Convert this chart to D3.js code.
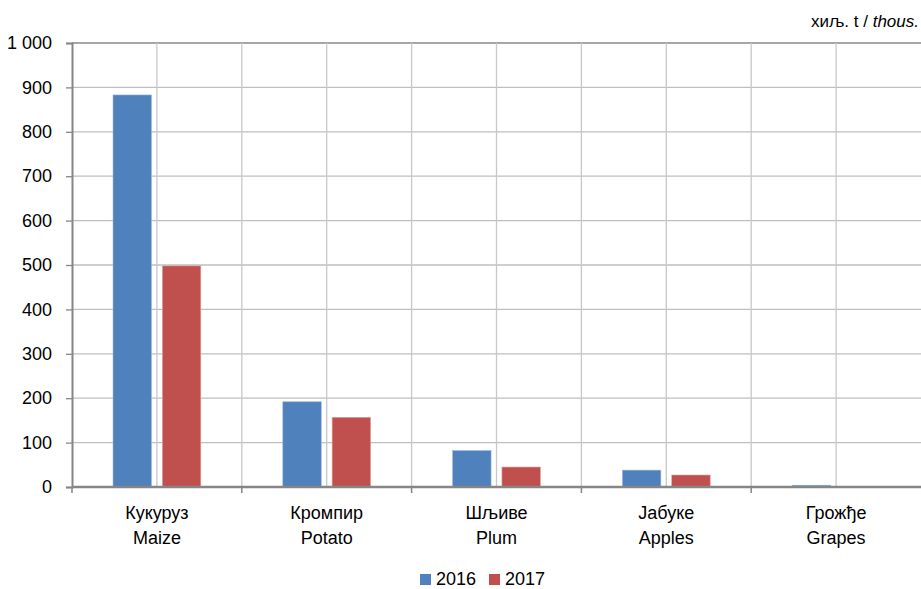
<!DOCTYPE html>
<html><head><meta charset="utf-8">
<script src="https://cdn.jsdelivr.net/npm/d3@7"></script>
<style>
body{margin:0;background:#fff;}
svg text{font-family:"Liberation Sans",Arial,sans-serif;fill:#000;}
</style></head>
<body><svg id="c" width="921" height="589"></svg>
<script>
const categoriesSr = ["Кукуруз","Кромпир","Шљиве","Јабуке","Грожђе"];
const categoriesEn = ["Maize","Potato","Plum","Apples","Grapes"];
const seriesNames = ["2016","2017"];
const values2016 = [883, 192, 82, 38, 4];
const values2017 = [498, 157, 45, 27, 1.5];
const yTicks = [0,100,200,300,400,500,600,700,800,900,1000];
const colors = ["#4F81BD","#C0504D"];

const FF = "Liberation Sans, Arial, sans-serif";
const FS = "18px";
const svg = d3.select("#c");
const L=72, R=921, T=43, B=487;
const x = d3.scaleBand().domain(d3.range(categoriesSr.length)).range([L,R]).paddingInner(0).paddingOuter(0);
const xs = d3.scaleBand().domain([0,1]).range([41, x.bandwidth()-41]).paddingInner(0.22);
const y = d3.scaleLinear().domain([0,1000]).range([B,T]);
const fmt = v => v>=1000 ? d3.format(",")(v).replace(",", " ") : String(v);

// horizontal gridlines
svg.append("g").selectAll("line").data(yTicks.filter(d=>d>0)).join("line")
  .attr("x1",L).attr("x2",R).attr("y1",d=>y(d)).attr("y2",d=>y(d))
  .attr("stroke",d=>d===1000?"#a6a6a6":"#bfbfbf").attr("stroke-width",d=>d===1000?2:1.3);
// vertical gridlines at half category
const vlines=[];
for(let i=0;i<categoriesSr.length;i++){ vlines.push(x(i)+x.bandwidth()/2); if(i>0) vlines.push(x(i)); }
svg.append("g").selectAll("line").data(vlines).join("line")
  .attr("x1",d=>d).attr("x2",d=>d).attr("y1",T).attr("y2",B)
  .attr("stroke","#c8c8c8").attr("stroke-width",1.3);

// bars
const data = categoriesSr.map((c,i)=>[values2016[i], values2017[i]]);
const g = svg.append("g");
data.forEach((vals,i)=>{
  vals.forEach((v,s)=>{
    g.append("rect").attr("x",x(i)+xs(s)).attr("width",xs.bandwidth())
     .attr("y",y(v)).attr("height",B-y(v)).attr("fill",colors[s])
     .attr("stroke", s===0?"#9db8dc":"#e0a3a1").attr("stroke-width",0.6);
  });
});

// y axis
const ya = svg.append("g").attr("transform",`translate(${L},0)`)
  .call(d3.axisLeft(y).tickValues(yTicks).tickFormat(fmt).tickSize(6).tickPadding(14));
ya.select(".domain").attr("stroke","#868686").attr("stroke-width",2);
ya.selectAll(".tick line").attr("stroke","#868686").attr("stroke-width",1.3);
ya.selectAll(".tick text").attr("font-size",FS).attr("font-family",FF).attr("fill","#000");

// x axis
const xa = svg.append("g").attr("transform",`translate(0,${B})`);
xa.append("line").attr("x1",L).attr("x2",R).attr("y1",0).attr("y2",0).attr("stroke","#868686").attr("stroke-width",2.5);
xa.selectAll("line.t").data(d3.range(categoriesSr.length)).join("line").attr("class","t")
  .attr("x1",d=>x(d)).attr("x2",d=>x(d)).attr("y1",0).attr("y2",6).attr("stroke","#868686").attr("stroke-width",1.5);
const lab = xa.selectAll("text").data(d3.range(categoriesSr.length)).join("text")
  .attr("text-anchor","middle").attr("font-size",FS).attr("font-family",FF);
lab.append("tspan").attr("x",d=>x(d)+x.bandwidth()/2).attr("y",32).text(d=>categoriesSr[d]);
lab.append("tspan").attr("x",d=>x(d)+x.bandwidth()/2).attr("y",56.5).text(d=>categoriesEn[d]);

// unit label
const u = svg.append("text").attr("x",919).attr("y",27).attr("text-anchor","end").attr("font-size","17px").attr("font-family",FF);
u.append("tspan").attr("font-style","normal").text("хиљ. t / ");
u.append("tspan").attr("font-style","italic").text("thous.");

// legend
const lg = svg.append("g");
const lx=[420,489];
seriesNames.forEach((n,i)=>{
  lg.append("rect").attr("x",lx[i]).attr("y",574).attr("width",11).attr("height",11).attr("fill",colors[i]);
  lg.append("text").attr("x",lx[i]+16).attr("y",585).attr("font-size",FS).attr("font-family",FF).text(n);
});
</script></body></html>
